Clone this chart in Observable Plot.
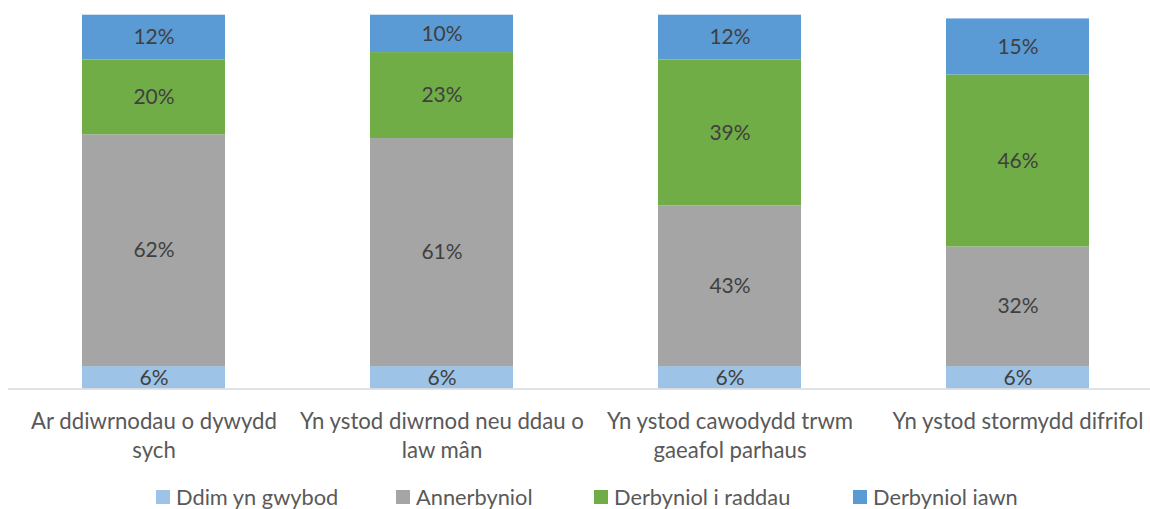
<!DOCTYPE html>
<html>
<head>
<meta charset="utf-8">
<script src="https://cdn.jsdelivr.net/npm/d3@7"></script>
<script src="https://cdn.jsdelivr.net/npm/@observablehq/plot@0.6"></script>
<style>
  html, body { margin: 0; padding: 0; background: #fff; width: 1150px; height: 509px; overflow: hidden; }
  body { font-family: Lato, "Open Sans", sans-serif; color: #595959; }
  #chart { position: relative; width: 1150px; height: 509px; }
  #legend { position: absolute; top: 483px; left: 0; width: 1150px; height: 30px; font-size: 21.8px; color: #595959; }
  .item { position: absolute; display: flex; align-items: center; white-space: nowrap; }
  .sw { width: 14px; height: 14px; margin-right: 6px; }
</style>
</head>
<body>
<div id="chart"></div>
<script>
const categories = [
  "Ar ddiwrnodau o dywydd\nsych",
  "Yn ystod diwrnod neu ddau o\nlaw mân",
  "Yn ystod cawodydd trwm\ngaeafol parhaus",
  "Yn ystod stormydd difrifol"
];
const seriesNames = ["Ddim yn gwybod", "Annerbyniol", "Derbyniol i raddau", "Derbyniol iawn"];
const seriesColors = ["#9dc3e6", "#a5a5a5", "#70ad47", "#5b9bd5"];
const ddimYnGwybod   = [6, 6, 6, 6];
const annerbyniol    = [62, 61, 43, 32];
const derbyniolRaddau = [20, 23, 39, 46];
const derbyniolIawn  = [12, 10, 12, 15];

const seriesValues = [ddimYnGwybod, annerbyniol, derbyniolRaddau, derbyniolIawn];
const rows = [];
categories.forEach((c, i) => {
  seriesNames.forEach((s, j) => {
    rows.push({category: c, series: s, value: seriesValues[j][i], order: j});
  });
});

const W = 1150, H = 470;
const chart = Plot.plot({
  width: W,
  height: H,
  marginLeft: 8,
  marginRight: 0,
  marginTop: 14.7,
  marginBottom: H - 388.5,
  style: {fontFamily: "Lato, 'Open Sans', sans-serif", background: "#fff", color: "#595959"},
  x: {domain: categories, paddingInner: 0.502, paddingOuter: 0.227, align: 0.549, label: null},
  y: {domain: [0, 100], axis: null},
  color: {domain: seriesNames, range: seriesColors},
  marks: [
    Plot.barY(rows, Plot.stackY({
      x: "category", y: "value", fill: "series", order: seriesNames
    })),
    Plot.text(rows, Plot.stackY({
      x: "category", y: "value", z: "series", order: seriesNames,
      text: d => d.value + "%", fill: "#404040", fontSize: 21
    })),
    Plot.ruleY([0], {stroke: "#d9d9d9", strokeWidth: 1.5}),
    Plot.axisX({tickSize: 0, tickPadding: 19, fontSize: 22.2, fill: "#595959", lineHeight: 1.31})
  ]
});
document.getElementById("chart").appendChild(chart);

const legend = document.createElement("div");
legend.id = "legend";
const lefts = [156, 396, 594, 853];
seriesNames.forEach((s, i) => {
  const it = document.createElement("div");
  it.className = "item";
  it.style.left = lefts[i] + "px";
  const sw = document.createElement("div");
  sw.className = "sw";
  sw.style.background = seriesColors[i];
  const t = document.createElement("span");
  t.textContent = s;
  it.appendChild(sw); it.appendChild(t);
  legend.appendChild(it);
});
document.getElementById("chart").appendChild(legend);
</script>
</body>
</html>
